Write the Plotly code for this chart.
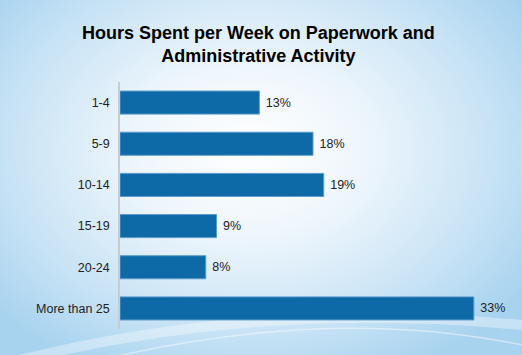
import plotly.graph_objects as go
import urllib.parse

categories = ["1-4", "5-9", "10-14", "15-19", "20-24", "More than 25"]
values = [13, 18, 19, 9, 8, 33]
value_labels = ["13%", "18%", "19%", "9%", "8%", "33%"]
title_text = "Hours Spent per Week on Paperwork and<br>Administrative Activity"

svg = """<svg xmlns='http://www.w3.org/2000/svg' width='522' height='355' viewBox='0 0 522 355'>
<defs>
<radialGradient id='g' cx='250' cy='150' r='330' gradientUnits='userSpaceOnUse' gradientTransform='translate(250 150) scale(1 0.75) translate(-250 -150)'>
<stop offset='0' stop-color='#ffffff'/>
<stop offset='0.35' stop-color='#eef6fc'/>
<stop offset='0.75' stop-color='#c6e2f5'/>
<stop offset='1' stop-color='#a8d3ef'/>
</radialGradient>
</defs>
<rect width='522' height='355' fill='url(#g)'/>
<path d='M 20 360 Q 260 300 522 325' stroke='#ffffff' stroke-opacity='0.35' stroke-width='10' fill='none'/>
<path d='M 100 360 Q 330 305 522 345' stroke='#ffffff' stroke-opacity='0.45' stroke-width='1.5' fill='none'/>
</svg>"""
bg_uri = "data:image/svg+xml;charset=utf-8," + urllib.parse.quote(svg)

font_fam = "Liberation Sans, Arial, sans-serif"

fig = go.Figure(
    go.Bar(
        x=values,
        y=categories,
        orientation="h",
        text=value_labels,
        texttemplate=" %{text}",
        textposition="outside",
        cliponaxis=False,
        textfont=dict(family=font_fam, size=12.5, color="#222222"),
        marker=dict(color="#0E69A7", line=dict(color="#5B9BCB", width=1)),
        width=0.56,
        hoverinfo="skip",
    )
)

fig.update_layout(
    width=522,
    height=355,
    margin=dict(l=120, r=16, t=82, b=26),
    paper_bgcolor="rgba(0,0,0,0)",
    plot_bgcolor="rgba(0,0,0,0)",
    showlegend=False,
    title=dict(
        text=title_text,
        x=0.495,
        xanchor="center",
        y=0.89,
        yanchor="top",
        font=dict(family="Liberation Sans, Arial, sans-serif", size=18, color="#000000", weight="bold"),
    ),
    images=[dict(source=bg_uri, xref="paper", yref="paper", x=-120/386, y=1+82/247,
                 sizex=522/386, sizey=355/247, xanchor="left", yanchor="top",
                 sizing="stretch", layer="below")],
    xaxis=dict(range=[0, 36], visible=False, fixedrange=True),
    yaxis=dict(
        categoryorder="array",
        categoryarray=categories,
        autorange="reversed",
        showline=True,
        linecolor="#c8ccd0",
        linewidth=1.5,
        showgrid=False,
        zeroline=False,
        ticks="",
        ticklabelstandoff=6,
        fixedrange=True,
        tickfont=dict(family=font_fam, size=12.5, color="#222222"),
    ),
)

fig.write_html(
    "out.html",
    config={"displayModeBar": False},
    post_script="document.body.style.margin='0';document.body.style.overflow='hidden';",
)
